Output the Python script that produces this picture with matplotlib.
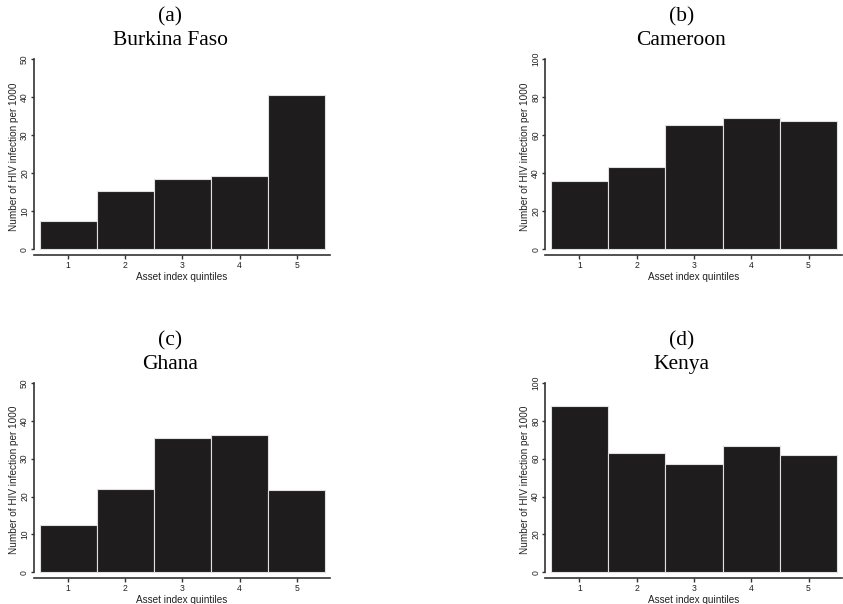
import numpy as np
import matplotlib.pyplot as plt

# data (HIV infections per 1000 by asset index quintile)
quintiles = [1, 2, 3, 4, 5]
burkina_faso = [7.4, 15.3, 18.4, 19.3, 40.6]
cameroon = [35.8, 43.2, 65.4, 69.1, 67.7]
ghana = [12.4, 21.9, 35.5, 36.2, 21.6]
kenya = [87.6, 62.9, 57.1, 66.7, 62.0]

panels = [
    ("(a)", "Burkina Faso", burkina_faso, 50, [0.0403, 0.578, 0.351, 0.326]),
    ("(b)", "Cameroon", cameroon, 100, [0.6465, 0.578, 0.352, 0.326]),
    ("(c)", "Ghana", ghana, 50, [0.0403, 0.043, 0.351, 0.325]),
    ("(d)", "Kenya", kenya, 100, [0.6465, 0.043, 0.352, 0.325]),
]

bar_color = "#1f1c1d"
spine_color = "#333333"

fig = plt.figure(figsize=(8.43, 6.04), dpi=100)

for letter, country, values, ymax, rect in panels:
    ax = fig.add_axes(rect)
    ax.bar(quintiles, values, width=1.0, color=bar_color,
           edgecolor="#e0e0e0", linewidth=0.8)

    ax.set_xlim(0.4, 5.58)
    ax.set_ylim(-0.03 * ymax, ymax * 1.006)
    ax.set_xticks(quintiles)
    ax.set_yticks(np.linspace(0, ymax, 6))

    for side in ["top", "right"]:
        ax.spines[side].set_visible(False)
    for side in ["left", "bottom"]:
        ax.spines[side].set_color(spine_color)
        ax.spines[side].set_linewidth(1.2)
    ax.spines["left"].set_bounds(0, ymax)

    ax.tick_params(axis="both", length=3, width=1.0, color=spine_color,
                   labelsize=6.2, pad=1.5, labelcolor="#222222")
    ax.tick_params(axis="y", length=2.5, pad=1)
    for lab in ax.get_yticklabels():
        lab.set_rotation(90)
        lab.set_verticalalignment("center")
    for lab in ax.get_xticklabels() + ax.get_yticklabels():
        lab.set_family("Liberation Sans")

    ax.set_xlabel("Asset index quintiles", fontsize=7.2, family="Liberation Sans",
                  labelpad=1.5, color="#222222")
    ax.set_ylabel("Number of HIV infection per 1000", fontsize=7.2,
                  family="Liberation Sans", labelpad=1, color="#222222")

    ax.text(0.46, 1.208, letter, transform=ax.transAxes, ha="center",
            va="center", fontsize=15.5, family="Liberation Serif")
    ax.text(0.46, 1.09, country, transform=ax.transAxes, ha="center",
            va="center", fontsize=15.5, family="Liberation Serif")

fig.savefig("out.png", dpi=100)
